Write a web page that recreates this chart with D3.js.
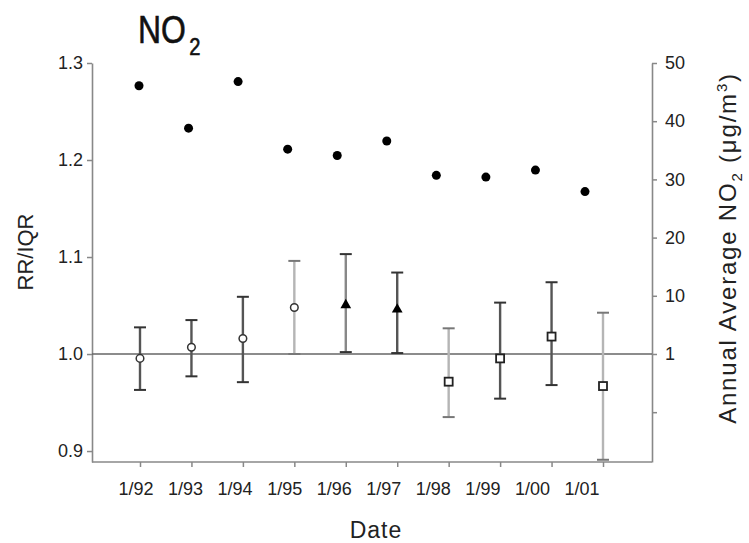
<!DOCTYPE html>
<html><head><meta charset="utf-8">
<script src="https://cdn.jsdelivr.net/npm/d3@7"></script>
<style>html,body{margin:0;padding:0;background:#fff;} svg{display:block;font-family:"Liberation Sans",Arial,sans-serif;}</style>
</head><body><svg id="chart" width="749" height="543"></svg>
<script>
// ---- data ----
const dates = ["1/92","1/93","1/94","1/95","1/96","1/97","1/98","1/99","1/00","1/01"];
const rr     = [0.9955, 1.007, 1.016, 1.048, 1.0505, 1.046, 0.9715, 0.9955, 1.018, 0.967];
const rrLow  = [0.963, 0.977, 0.971, 1.000, 1.002, 1.001, 0.935, 0.954, 0.968, 0.891];
const rrHigh = [1.0275, 1.035, 1.059, 1.096, 1.103, 1.084, 1.0265, 1.053, 1.074, 1.0426];
const markerShape = ["circle","circle","circle","circle","triangle","triangle","square","square","square","square"];
const barTone = ["dark","dark","dark","light","mid","dark","light","dark","dark","light"];
const avgNO2 = [46.1, 38.8, 46.8, 35.2, 34.1, 36.6, 30.7, 30.4, 31.6, 27.9];
const leftTicks = [0.9, 1.0, 1.1, 1.2, 1.3];
const rightTicks = [50, 40, 30, 20, 10, 0, -10];
const rightTickLabels = ["50","40","30","20","10","1",""];

// ---- layout ----
const m = {left: 92, right: 652, top: 63, bottom: 462};
const toneColor = {dark: "#555", mid: "#888", light: "#b5b5b5"};
const svg = d3.select("#chart");

const xBar = d3.scalePoint().domain(dates).range([140, 603]);
const xAvg = d3.scalePoint().domain(dates).range([139, 585]);
const yL = d3.scaleLinear().domain([0.8887, 1.3]).range([m.bottom, m.top]);
const yR = d3.scaleLinear().domain([-18.56, 50]).range([m.bottom, m.top]);

function styleAxis(g){
  g.selectAll("path.domain").attr("stroke", "#888").attr("stroke-width", 1.6);
  g.selectAll(".tick line").attr("stroke", "#888").attr("stroke-width", 1.5);
  g.selectAll(".tick text").attr("fill", "#222").style("font-size", "18px").style("font-family", "Liberation Sans, Arial, sans-serif");
}

// left axis
svg.append("g").attr("transform", `translate(${m.left},0)`)
  .call(d3.axisLeft(yL).tickValues(leftTicks).tickFormat(d3.format(".1f")).tickSize(5).tickSizeOuter(0).tickPadding(4))
  .call(styleAxis);

// right axis
svg.append("g").attr("transform", `translate(${m.right},0)`)
  .call(d3.axisRight(yR).tickValues(rightTicks).tickFormat((d,i) => rightTickLabels[i]).tickSize(5).tickSizeOuter(0).tickPadding(8))
  .call(styleAxis);

// bottom axis: line + tick marks
svg.append("line").attr("x1", m.left).attr("x2", m.right).attr("y1", m.bottom).attr("y2", m.bottom)
  .attr("stroke", "#888").attr("stroke-width", 1.6);
svg.append("g").attr("transform", `translate(0,${m.bottom})`)
  .call(d3.axisBottom(xBar).tickFormat("").tickSize(5).tickSizeOuter(0))
  .call(g => g.select("path.domain").remove())
  .call(styleAxis);
// bottom labels
svg.append("g").attr("transform", `translate(0,${m.bottom})`)
  .call(d3.axisBottom(xAvg).tickSize(0).tickPadding(20))
  .call(g => g.select("path.domain").remove())
  .call(styleAxis)
  .call(g => g.selectAll(".tick text").attr("dx", -3.5));

// reference line RR = 1
svg.append("line").attr("x1", m.left).attr("x2", m.right).attr("y1", yL(1)).attr("y2", yL(1))
  .attr("stroke", "#666").attr("stroke-width", 1.5);

// error bars
const bars = svg.append("g").selectAll("g").data(dates).join("g");
bars.append("line")
  .attr("x1", d => xBar(d)).attr("x2", d => xBar(d))
  .attr("y1", (d,i) => yL(rrLow[i])).attr("y2", (d,i) => yL(rrHigh[i]))
  .attr("stroke", (d,i) => toneColor[barTone[i]]).attr("stroke-width", 2.4);
bars.append("line")
  .attr("x1", d => xBar(d) - 6).attr("x2", d => xBar(d) + 6)
  .attr("y1", (d,i) => yL(rrHigh[i])).attr("y2", (d,i) => yL(rrHigh[i]))
  .attr("stroke", (d,i) => barTone[i] === "light" ? "#777" : "#333").attr("stroke-width", 2);
bars.append("line")
  .attr("x1", d => xBar(d) - 6).attr("x2", d => xBar(d) + 6)
  .attr("y1", (d,i) => yL(rrLow[i])).attr("y2", (d,i) => yL(rrLow[i]))
  .attr("stroke", (d,i) => barTone[i] === "light" ? "#777" : "#333").attr("stroke-width", 2);

// markers
bars.each(function(d, i){
  const g = d3.select(this);
  const cx = xBar(d), cy = yL(rr[i]);
  if (markerShape[i] === "circle") {
    g.append("circle").attr("cx", cx).attr("cy", cy).attr("r", 3.8)
      .attr("fill", "#fff").attr("stroke", "#333").attr("stroke-width", 1.5);
  } else if (markerShape[i] === "triangle") {
    g.append("path").attr("d", d3.symbol(d3.symbolTriangle, 50)()).attr("transform", `translate(${cx},${cy})`)
      .attr("fill", "#000");
  } else {
    g.append("rect").attr("x", cx - 4).attr("y", cy - 4).attr("width", 8).attr("height", 8)
      .attr("fill", "#fff").attr("stroke", "#222").attr("stroke-width", 1.8);
  }
});

// annual average dots
svg.append("g").selectAll("circle").data(dates).join("circle")
  .attr("cx", d => xAvg(d)).attr("cy", (d,i) => yR(avgNO2[i])).attr("r", 4.5).attr("fill", "#000");

// title
const title = svg.append("text").attr("transform", "translate(138,43) scale(0.84,1)")
  .attr("fill", "#111").attr("stroke", "#111").attr("stroke-width", 0.6).style("font-size", "38px");
title.append("tspan").text("NO");
title.append("tspan").attr("dx", 4).attr("dy", 12).style("font-size", "24px").text("2");

// axis titles
svg.append("text").attr("transform", `translate(33,252) rotate(-90)`)
  .attr("text-anchor", "middle").attr("fill", "#222").style("font-size", "22px").text("RR/IQR");
svg.append("text").attr("x", 376).attr("y", 538).attr("text-anchor", "middle")
  .attr("fill", "#222").style("font-size", "23px").style("letter-spacing", "1px").text("Date");
const rl = svg.append("text").attr("transform", `translate(736,248) rotate(-90)`)
  .attr("text-anchor", "middle").attr("fill", "#222").style("font-size", "24px").style("letter-spacing", "1.8px");
rl.append("tspan").text("Annual Average NO");
rl.append("tspan").attr("dy", 6).style("font-size", "15px").text("2");
rl.append("tspan").attr("dy", -6).text(" (μg/m");
rl.append("tspan").attr("dy", -9).style("font-size", "15px").text("3");
rl.append("tspan").attr("dy", 9).text(")");
</script>
</body></html>
